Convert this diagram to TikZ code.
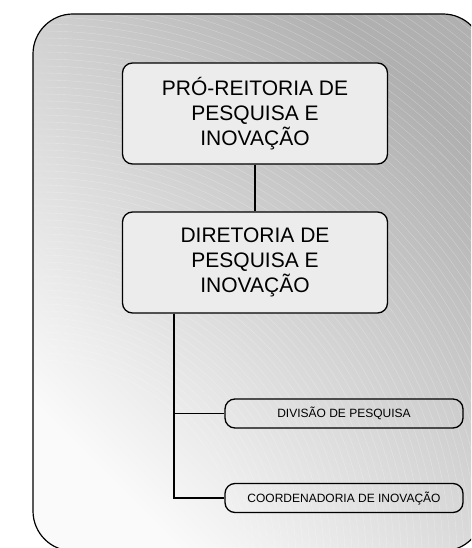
\documentclass[tikz,border=0pt]{standalone}
\usepackage{fontspec}
\setmainfont{Liberation Sans}
\definecolor{boxgray}{HTML}{ECECEC}
\definecolor{bgdark}{HTML}{B0B0B0}
\definecolor{bglight}{HTML}{FAFAFA}
\begin{document}
\begin{tikzpicture}[x=1pt,y=-1pt,
  bigbox/.style={draw=black, line width=1.3pt, rounded corners=10pt, fill=boxgray,
    minimum width=265pt, minimum height=101pt, inner sep=0pt, align=center,
    font=\fontsize{21}{25}\selectfont},
  smallbox/.style={draw=black, line width=1.3pt, rounded corners=10pt,
    minimum width=238pt, minimum height=29pt, inner sep=0pt,
    font=\fontsize{12}{14}\selectfont},
  conn/.style={line width=1.3pt},
  texture/.style={white, line width=0.4pt, opacity=0.3}]
\useasboundingbox (0,0) rectangle (471,548);
\begin{scope}
  \clip (0,0) rectangle (471,548);
  \shade[rounded corners=40pt, top color=bgdark, bottom color=bglight, shading angle=-45]
    (33,14) rectangle (483,551);
  \begin{scope}
    \clip[rounded corners=40pt] (33,14) rectangle (483,551);
    \foreach \r in {200,207,...,700} {
      \draw[texture] (40,560) circle[radius=\r];
    }
  \end{scope}
  \draw[line width=1.2pt, rounded corners=40pt] (33,14) rectangle (483,551);
\end{scope}
\node[bigbox] (pro) at (255,113.5) {PRÓ-REITORIA DE\\PESQUISA E\\INOVAÇÃO};
\node[bigbox] (dir) at (255,262.5) {DIRETORIA DE\\PESQUISA E\\INOVAÇÃO};
\node[smallbox] (div) at (344,413.5) {DIVISÃO DE PESQUISA};
\node[smallbox] (coo) at (344,498) {COORDENADORIA DE INOVAÇÃO};
\coordinate (trunk) at (174,0);
\draw[conn] (pro) -- (dir);
\draw[conn] (trunk |- dir.south) |- (div.west);
\draw[conn] (trunk |- dir.south) |- (coo.west);
\end{tikzpicture}
\end{document}
